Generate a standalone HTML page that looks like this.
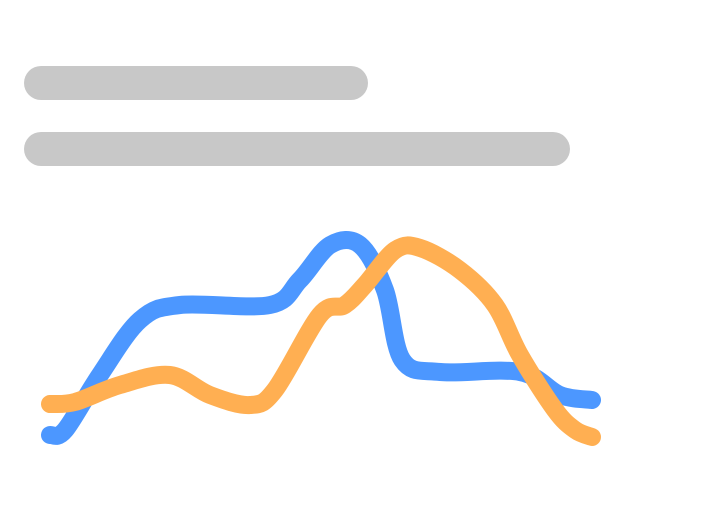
<!DOCTYPE html>
<html><head><meta charset="utf-8"><style>
html,body{margin:0;padding:0;background:#fff;width:712px;height:528px;overflow:hidden;font-family:"Liberation Sans",sans-serif}
.bar{position:absolute;background:#c8c8c8;border-radius:17px;height:34px}
</style></head><body>
<div class="bar" style="left:24px;top:66px;width:344px"></div>
<div class="bar" style="left:24px;top:132px;width:546px"></div>
<svg id="chart" width="712" height="528" style="position:absolute;left:0;top:0"></svg>
<script>
const blueX=[0,2.8,9.2,16.6,24,40.6,46.1,51.7,57.2,61.8,65,72,86.7,94.1,100];
const blueY=[10,12,34,56,62,62,72,86,86,68,40,35.2,35.2,26,24];
const orangeX=[0,4.6,12.9,22.1,29.5,36.9,41.5,49.8,54.4,58.1,63.7,68.3,75.6,82.1,86.7,93.2,96.9,100];
const orangeY=[22.4,23.2,30,34,26,22,28,58,62,70,84,84.8,76,62,42,20,12,9.2];
function sx(v){return 50+v*(592-50)/100;}
function sy(v){return 460-v*2.5;}
function path(xs,ys){
  const p=xs.map((x,i)=>[sx(x),sy(ys[i])]);
  let d='M'+p[0][0]+','+p[0][1];
  for(let i=0;i<p.length-1;i++){
    const p0=p[i-1]||p[i],p1=p[i],p2=p[i+1],p3=p[i+2]||p2;
    const c1=[p1[0]+(p2[0]-p0[0])/6,p1[1]+(p2[1]-p0[1])/6];
    const c2=[p2[0]-(p3[0]-p1[0])/6,p2[1]-(p3[1]-p1[1])/6];
    d+=' C'+c1[0]+','+c1[1]+' '+c2[0]+','+c2[1]+' '+p2[0]+','+p2[1];
  }
  return d;
}
const svg=document.getElementById('chart');
function line(xs,ys,color,name){
  const el=document.createElementNS('http://www.w3.org/2000/svg','path');
  el.setAttribute('d',path(xs,ys));
  el.setAttribute('fill','none');
  el.setAttribute('stroke',color);
  el.setAttribute('stroke-width','18');
  el.setAttribute('stroke-linecap','round');
  el.setAttribute('stroke-linejoin','round');
  
  
  svg.appendChild(el);
}
line(blueX,blueY,'#4c97ff','blue-series-line');
line(orangeX,orangeY,'#ffaf52','orange-series-line');
</script>
</body></html>
